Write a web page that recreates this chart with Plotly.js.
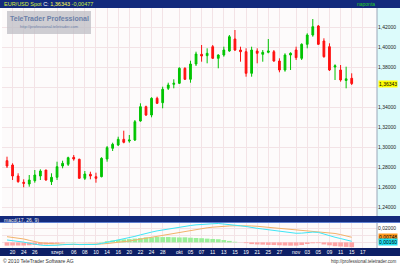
<!DOCTYPE html>
<html><head><meta charset="utf-8">
<script src="https://cdn.plot.ly/plotly-3.0.1.min.js"></script>
<style>html,body{margin:0;padding:0;background:#fff}#chart{width:400px;height:266px}</style>
</head><body><div id="chart"></div>
<script>
// ---- data ----
const dates = ['2010-08-19','2010-08-20','2010-08-23','2010-08-24','2010-08-25','2010-08-26','2010-08-27','2010-08-30','2010-08-31',
'2010-09-01','2010-09-02','2010-09-03','2010-09-06','2010-09-07','2010-09-08','2010-09-09','2010-09-10','2010-09-13','2010-09-14','2010-09-15','2010-09-16','2010-09-17','2010-09-20','2010-09-21','2010-09-22','2010-09-23','2010-09-24','2010-09-27','2010-09-28','2010-09-29','2010-09-30',
'2010-10-01','2010-10-04','2010-10-05','2010-10-06','2010-10-07','2010-10-08','2010-10-11','2010-10-12','2010-10-13','2010-10-14','2010-10-15','2010-10-18','2010-10-19','2010-10-20','2010-10-21','2010-10-22','2010-10-25','2010-10-26','2010-10-27','2010-10-28','2010-10-29',
'2010-11-01','2010-11-02','2010-11-03','2010-11-04','2010-11-05','2010-11-08','2010-11-09','2010-11-10','2010-11-11','2010-11-12','2010-11-15'];
const open  = [1.2863,1.2820,1.2710,1.2647,1.2630,1.2663,1.2710,1.2770,1.2653,1.2697,1.2810,1.2827,1.2897,1.2877,1.2687,1.2727,1.2703,1.2703,1.2880,1.2987,1.3020,1.3077,1.3060,1.3070,1.3260,1.3403,1.3320,1.3487,1.3443,1.3587,1.3627,1.3637,1.3787,1.3677,1.3830,1.3927,1.3913,1.4003,1.3887,1.3920,1.3960,1.4080,1.3970,1.3953,1.3737,1.3960,1.3927,1.3947,1.3953,1.3860,1.3770,1.3920,1.3970,1.3887,1.4027,1.4120,1.4210,1.4060,1.4003,1.3800,1.3770,1.3665,1.3687];
const high  = [1.2903,1.2837,1.2737,1.2677,1.2720,1.2770,1.2777,1.2770,1.2737,1.2853,1.2863,1.2903,1.2920,1.2883,1.2760,1.2753,1.2743,1.2897,1.3010,1.3043,1.3103,1.3163,1.3120,1.3270,1.3437,1.3413,1.3497,1.3503,1.3603,1.3643,1.3677,1.3797,1.3797,1.3863,1.3953,1.4020,1.3987,1.4020,1.3927,1.4003,1.4120,1.4170,1.4003,1.3987,1.4003,1.3987,1.3970,1.4080,1.3970,1.3887,1.3937,1.3947,1.4003,1.4037,1.4137,1.4280,1.4220,1.4087,1.4037,1.3827,1.3820,1.3803,1.3737];
const low   = [1.2790,1.2670,1.2643,1.2597,1.2603,1.2643,1.2670,1.2663,1.2620,1.2670,1.2787,1.2810,1.2863,1.2683,1.2670,1.2677,1.2643,1.2697,1.2853,1.2960,1.3010,1.3037,1.3043,1.3060,1.3253,1.3310,1.3297,1.3430,1.3387,1.3570,1.3587,1.3630,1.3670,1.3643,1.3810,1.3853,1.3837,1.3880,1.3787,1.3903,1.3953,1.3960,1.3853,1.3703,1.3703,1.3837,1.3853,1.3937,1.3853,1.3747,1.3753,1.3770,1.3870,1.3870,1.3987,1.4103,1.4020,1.3893,1.3760,1.3670,1.3653,1.3587,1.3620];
const close = [1.2810,1.2710,1.2653,1.2637,1.2670,1.2720,1.2760,1.2670,1.2697,1.2803,1.2837,1.2893,1.2880,1.2687,1.2730,1.2710,1.2687,1.2887,1.2993,1.3027,1.3077,1.3047,1.3070,1.3253,1.3403,1.3320,1.3487,1.3437,1.3577,1.3620,1.3637,1.3787,1.3677,1.3830,1.3930,1.3910,1.3937,1.3887,1.3920,1.3970,1.4103,1.3970,1.3953,1.3737,1.3970,1.3937,1.3947,1.3960,1.3860,1.3770,1.3920,1.3937,1.3893,1.4027,1.4120,1.4203,1.4027,1.3903,1.3770,1.3812,1.3670,1.3682,1.36343];
const macdLine = [0.0035,0.0027,0.0016,0.0004,-0.0012,-0.0028,-0.0040,-0.0046,-0.0048,-0.0042,
 -0.0034,-0.0026,-0.0026,-0.0032,-0.0032,-0.0032,-0.0030,-0.0016,0.0000,0.0018,
 0.0035,0.0052,0.0068,0.0088,0.0110,0.0135,0.0150,0.0168,0.0182,0.0198,
 0.0210,0.0222,0.0238,0.0246,0.0256,0.0264,0.0268,0.0272,0.0276,0.0270,
 0.0262,0.0252,0.0242,0.0232,0.0215,0.0205,0.0195,0.0183,0.0172,0.0160,
 0.0148,0.0138,0.0133,0.0135,0.0144,0.0150,0.0146,0.0120,0.0098,0.0075,
 0.0056,0.0036,0.0016];
const signalLine = [0.0083,0.0073,0.0062,0.0050,0.0030,0.0010,-0.0005,-0.0015,-0.0021,-0.0025,
 -0.0028,-0.0029,-0.0030,-0.0030,-0.0029,-0.0028,-0.0026,-0.0023,-0.0017,-0.0010,
 -0.0002,0.0008,0.0020,0.0033,0.0047,0.0062,0.0076,0.0090,0.0105,0.0120,
 0.0135,0.0150,0.0164,0.0178,0.0192,0.0203,0.0213,0.0222,0.0230,0.0236,
 0.0240,0.0243,0.0244,0.0243,0.0240,0.0235,0.0228,0.0220,0.0211,0.0202,
 0.0194,0.0186,0.0180,0.0174,0.0168,0.0163,0.0157,0.0150,0.0141,0.0130,
 0.0114,0.0096,0.00748];
const histogram = [-0.0048,-0.0046,-0.0046,-0.0046,-0.0042,-0.0038,-0.0035,-0.0031,-0.0027,-0.0017,
 -0.0006,0.0003,0.0004,-0.0002,-0.0003,-0.0004,-0.0004,0.0007,0.0017,0.0028,
 0.0037,0.0044,0.0048,0.0055,0.0063,0.0073,0.0074,0.0078,0.0077,0.0078,
 0.0075,0.0072,0.0074,0.0068,0.0064,0.0061,0.0055,0.0050,0.0046,0.0034,
 0.0022,0.0009,-0.0002,-0.0011,-0.0025,-0.0030,-0.0033,-0.0037,-0.0039,-0.0042,
 -0.0046,-0.0048,-0.0047,-0.0039,-0.0024,-0.0013,-0.0011,-0.0030,-0.0043,-0.0055,
 -0.0060,-0.0066,-0.0070];
const tickDates = ['2010-08-18','2010-08-20','2010-08-24','2010-08-26','2010-09-01','2010-09-06','2010-09-08','2010-09-10','2010-09-14','2010-09-16','2010-09-20','2010-09-22','2010-09-24','2010-09-28','2010-10-01','2010-10-05','2010-10-07','2010-10-11','2010-10-13','2010-10-15','2010-10-19','2010-10-21','2010-10-25','2010-10-27','2010-11-01','2010-11-03','2010-11-05','2010-11-09','2010-11-11','2010-11-15','2010-11-17'];
const tickLabels = ['18','20','24','26','szept','06','08','10','14','16','20','22','24','28','okt','05','07','11','13','15','19','21','25','27','nov','03','05','09','11','15','17'];
const priceTicks = [1.24,1.26,1.28,1.30,1.32,1.34,1.36,1.38,1.40,1.42];
const symbol = 'EUR/USD Spot';
const indicatorName = 'macd(17, 26, 9)';
const periodName = 'naponta';

// ---- helpers ----
function tradingIndex(s){ // weekdays counted from the first candle date
  const base = new Date(dates[0]+'T00:00:00Z'), t = new Date(s+'T00:00:00Z');
  let n = 0; const step = t >= base ? 1 : -1; const cur = new Date(base);
  while (cur.getTime() !== t.getTime()) { cur.setUTCDate(cur.getUTCDate()+step); const w = cur.getUTCDay(); if (w!==0 && w!==6) n += step; }
  return n;
}
const fmt = (v,d) => v.toFixed(d).replace('.', ',');
const xs = dates.map(tradingIndex);
const tickX = tickDates.map(tradingIndex);
const last = close[close.length-1], prev = close[close.length-2];

const H = 266, W = 400;
const py = p => 1 - p/H, px = p => p/W;
const GREEN = '#00c400', RED = '#ff1010', GRID = '#f3e3e6';

const traces = [
  {type:'candlestick', x: xs, open, high, low, close, xaxis:'x', yaxis:'y',
   increasing:{line:{color:GREEN,width:1}, fillcolor:GREEN},
   decreasing:{line:{color:RED,width:1}, fillcolor:RED}, whiskerwidth:0, hoverinfo:'skip'},
  {type:'bar', x: xs, y: histogram, xaxis:'x2', yaxis:'y2', width:0.85,
   marker:{color: histogram.map(v => v>=0 ? '#98ef98' : '#ffa4a4'), line:{width:0}}, hoverinfo:'skip'},
  {type:'scatter', mode:'lines', x: xs, y: signalLine, xaxis:'x2', yaxis:'y2', line:{color:'#f2b36a', width:1}, hoverinfo:'skip'},
  {type:'scatter', mode:'lines', x: xs, y: macdLine, xaxis:'x2', yaxis:'y2', line:{color:'#3fe6f6', width:1}, hoverinfo:'skip'}
];

const xr = [-0.9, 66.55];
const baseX = {range: xr, tickvals: tickX, ticktext: tickLabels, showgrid:true, gridcolor:GRID, gridwidth:1, zeroline:false, showline:false, ticks:'', fixedrange:true};
const layout = {
  width: W, height: H, margin:{l:0,r:0,t:0,b:0}, paper_bgcolor:'#ffffff', plot_bgcolor:'#fdfbfb',
  showlegend:false, boxgap:0.55, bargap:0.1,
  font:{family:'Liberation Sans, Arial, sans-serif', size:5, color:'#222'},
  xaxis: Object.assign({}, baseX, {domain:[px(2), px(377)], anchor:'y', showticklabels:false, rangeslider:{visible:false}}),
  yaxis: {domain:[py(216), py(8)], range:[1.231, 1.439], side:'right', tickvals: priceTicks,
          ticktext: priceTicks.map(v => Math.abs(v-1.36)<1e-9 ? '' : fmt(v,5)),
          showgrid:true, gridcolor:GRID, zeroline:false, ticks:'', tickfont:{size:5, color:'#222'}, fixedrange:true},
  xaxis2: Object.assign({}, baseX, {domain:[px(2), px(377)], anchor:'y2', showticklabels:true, tickfont:{size:5, color:'#ffffff'}}),
  yaxis2: {domain:[py(248), py(223)], range:[-0.0082, 0.0283], side:'right', tickvals:[0, 0.01, 0.02], ticktext:['', '', fmt(0.02,5)],
           showgrid:true, gridcolor:GRID, zeroline:false, ticks:'', tickfont:{size:5, color:'#222'}, fixedrange:true},
  shapes: [
    {type:'rect', xref:'paper', yref:'paper', x0:0, x1:1, y0:py(8), y1:1, fillcolor:'#132a7c', line:{width:0}, layer:'below'},
    {type:'rect', xref:'paper', yref:'paper', x0:px(377), x1:1, y0:py(216), y1:py(8), fillcolor:'#dcfbfb', line:{width:0}, layer:'below'},
    {type:'line', xref:'paper', yref:'paper', x0:px(377), x1:px(377), y0:py(216), y1:py(8), line:{color:'#9aa6b8', width:1}},
    {type:'line', xref:'paper', yref:'paper', x0:px(377), x1:px(377), y0:py(248), y1:py(223), line:{color:'#9aa6b8', width:1}},
    {type:'rect', xref:'paper', yref:'paper', x0:0, x1:1, y0:py(223), y1:py(216), fillcolor:'#132a7c', line:{width:0}, layer:'below'},
    {type:'line', xref:'paper', yref:'paper', x0:0, x1:1, y0:py(222.5), y1:py(222.5), line:{color:'#5f7fd0', width:1}},
    {type:'rect', xref:'paper', yref:'paper', x0:0, x1:1, y0:py(256), y1:py(248), fillcolor:'#0d1f66', line:{width:0}, layer:'below'},
    {type:'rect', xref:'paper', yref:'paper', x0:px(7), x1:px(91), y0:py(34), y1:py(11), fillcolor:'rgba(190,190,196,0.75)', line:{width:0}}
  ],
  annotations: [
    {xref:'paper', yref:'paper', x:px(2), y:py(4), xanchor:'left', yanchor:'middle', showarrow:false,
     text:'<span style="color:#d8ee3a">'+symbol+'</span> <span style="color:#ffffff">C:</span> <span style="color:#ffff50">'+fmt(last,5)+'</span> <span style="color:#c8ee40">'+fmt(last-prev,5)+'</span>',
     font:{size:5.5}},
    {xref:'paper', yref:'paper', x:px(366), y:py(4), xanchor:'center', yanchor:'middle', showarrow:false, text:periodName, font:{size:5, color:'#22d022'}},
    {xref:'paper', yref:'paper', x:px(49), y:py(19), xanchor:'center', yanchor:'middle', showarrow:false, text:'<b>TeleTrader Professional</b>', font:{size:7, color:'#6b7fa8'}},
    {xref:'paper', yref:'paper', x:px(49), y:py(27), xanchor:'center', yanchor:'middle', showarrow:false, text:'http://professional.teletrader.com', font:{size:4, color:'#6b7fa8'}},
    {xref:'paper', yref:'y', x:px(378), y:last, xanchor:'left', yanchor:'middle', showarrow:false, text:fmt(last,5), bgcolor:'#ffff00', borderpad:0, font:{size:5, color:'#000'}},
    {xref:'paper', yref:'paper', x:px(2), y:py(219.5), xanchor:'left', yanchor:'middle', showarrow:false, text:indicatorName, font:{size:5, color:'#f0f0f0'}},
    {xref:'paper', yref:'y2', x:px(378), y:signalLine[signalLine.length-1], xanchor:'left', yanchor:'middle', showarrow:false, text:fmt(signalLine[signalLine.length-1],5), bgcolor:'#ff9a20', borderpad:0, font:{size:5, color:'#000'}},
    {xref:'paper', yref:'y2', x:px(378), y:macdLine[macdLine.length-1]-0.0012, xanchor:'left', yanchor:'middle', showarrow:false, text:fmt(macdLine[macdLine.length-1],5), bgcolor:'#22e0f0', borderpad:0, font:{size:5, color:'#000'}},
    {xref:'paper', yref:'paper', x:px(1), y:py(261), xanchor:'left', yanchor:'middle', showarrow:false, text:'© 2010 TeleTrader Software AG', font:{size:5, color:'#333'}},
    {xref:'paper', yref:'paper', x:px(399), y:py(261), xanchor:'right', yanchor:'middle', showarrow:false, text:'http://professional.teletrader.com', font:{size:4.5, color:'#333'}}
  ]
};
Plotly.newPlot('chart', traces, layout, {staticPlot:true, displayModeBar:false});
</script></body></html>
